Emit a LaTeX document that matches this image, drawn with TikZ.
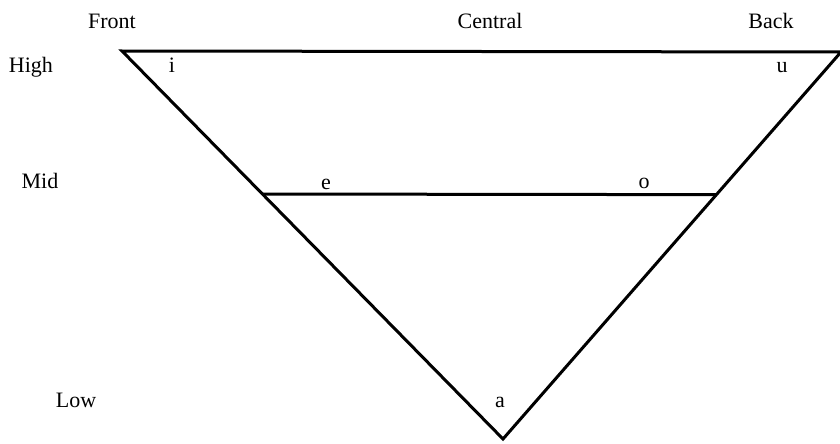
\documentclass[tikz,border=0pt]{standalone}
\usepackage{fontspec}
\setmainfont{Liberation Serif}
\usepackage{tikz}
\usetikzlibrary{calc}

\begin{document}
\begin{tikzpicture}[x=1pt,y=-1pt,
  lbl/.style={font=\fontsize{22}{26}\selectfont,inner sep=0pt,anchor=base},
  edge/.style={line width=3pt,line cap=round,line join=miter}
]
\useasboundingbox (0,0) rectangle (840,444);
% corners of the vowel chart
\coordinate (hf) at (122,51);
\coordinate (hb) at (841,52);
\coordinate (lo) at (503,439);
\coordinate (mf) at ($(hf)!0.3686!(lo)$);
\coordinate (mb) at ($(hb)!0.3686!(lo)$);
\draw[edge] (hf) -- (hb) -- (lo) -- cycle;
\draw[edge,line cap=butt] (mf) -- (mb);
% axis labels
\node[lbl] (front) at (112,29) {Front};
\node[lbl] (central) at (490,29) {Central};
\node[lbl] (back) at (771,29) {Back};
\node[lbl] (high) at (31,72) {High};
\node[lbl] (mid) at (40,188) {Mid};
\node[lbl] (low) at (76,407) {Low};
% vowels
\node[lbl] (i) at (172,73) {i};
\node[lbl] (u) at (782,73) {u};
\node[lbl] (e) at (326,189) {e};
\node[lbl] (o) at (644,188) {o};
\node[lbl] (a) at (500,407) {a};
\end{tikzpicture}
\end{document}
